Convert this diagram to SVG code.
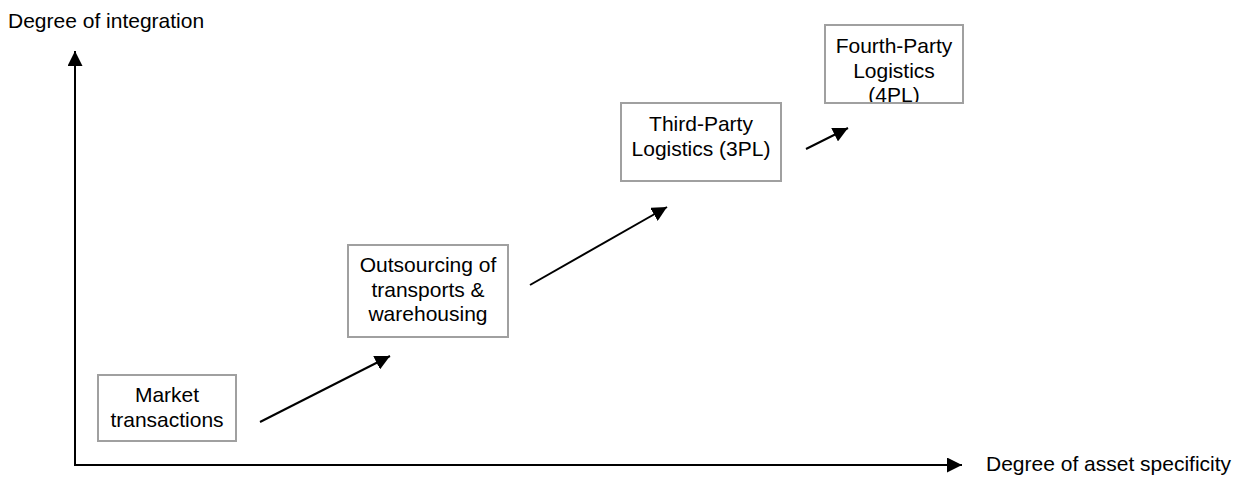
<svg xmlns="http://www.w3.org/2000/svg" width="1245" height="480" viewBox="0 0 1245 480">
  <style>
    .lbl { font-family: "Liberation Sans", Arial, sans-serif; font-size: 21px; fill: #000; }
    .box { fill: #fff; stroke: #a0a0a0; stroke-width: 2; }
    .frame { fill: none; stroke: #a0a0a0; stroke-width: 2; }
    .line { fill: none; stroke: #000; stroke-width: 2; }
  </style>
  <defs>
    <marker id="head" markerUnits="userSpaceOnUse" markerWidth="16" markerHeight="15" refX="15" refY="7.5" orient="auto">
      <path d="M0,0 L15,7.5 L0,15 Z" fill="#000"/>
    </marker>
    <clipPath id="clip4pl">
      <rect x="826" y="26" width="136" height="76"/>
    </clipPath>
  </defs>

  <rect width="1245" height="480" fill="#fff"/>

  <!-- axes -->
  <g id="axes">
    <line class="line" x1="75" y1="466" x2="75" y2="51" marker-end="url(#head)"/>
    <line class="line" x1="74" y1="465" x2="962" y2="465" marker-end="url(#head)"/>
    <text class="lbl" x="8" y="28">Degree of integration</text>
    <text class="lbl" x="986" y="471">Degree of asset specificity</text>
  </g>

  <!-- stages -->
  <g id="market">
    <rect class="box" x="98" y="375" width="138" height="66"/>
    <text class="lbl" text-anchor="middle" x="167" y="402">Market</text>
    <text class="lbl" text-anchor="middle" x="167" y="426.5">transactions</text>
  </g>

  <g id="outsourcing">
    <rect class="box" x="348" y="245" width="160" height="92"/>
    <text class="lbl" text-anchor="middle" x="428" y="272">Outsourcing of</text>
    <text class="lbl" text-anchor="middle" x="428" y="296.5">transports &amp;</text>
    <text class="lbl" text-anchor="middle" x="428" y="321">warehousing</text>
  </g>

  <g id="tpl">
    <rect class="box" x="621" y="103" width="160" height="78"/>
    <text class="lbl" text-anchor="middle" x="701" y="131">Third-Party</text>
    <text class="lbl" text-anchor="middle" x="701" y="155.5">Logistics (3PL)</text>
  </g>

  <g id="fpl">
    <rect class="box" x="825" y="25" width="138" height="78"/>
    <g clip-path="url(#clip4pl)">
      <text class="lbl" text-anchor="middle" x="894" y="53">Fourth-Party</text>
      <text class="lbl" text-anchor="middle" x="894" y="77.5">Logistics</text>
      <text class="lbl" text-anchor="middle" x="894" y="102">(4PL)</text>
    </g>
    <rect class="frame" x="825" y="25" width="138" height="78"/>
  </g>

  <!-- progression arrows -->
  <g id="connectors">
    <line class="line" x1="260" y1="422" x2="390" y2="356" marker-end="url(#head)"/>
    <line class="line" x1="530" y1="285" x2="667" y2="207" marker-end="url(#head)"/>
    <line class="line" x1="806" y1="149" x2="848" y2="128" marker-end="url(#head)"/>
  </g>
</svg>
